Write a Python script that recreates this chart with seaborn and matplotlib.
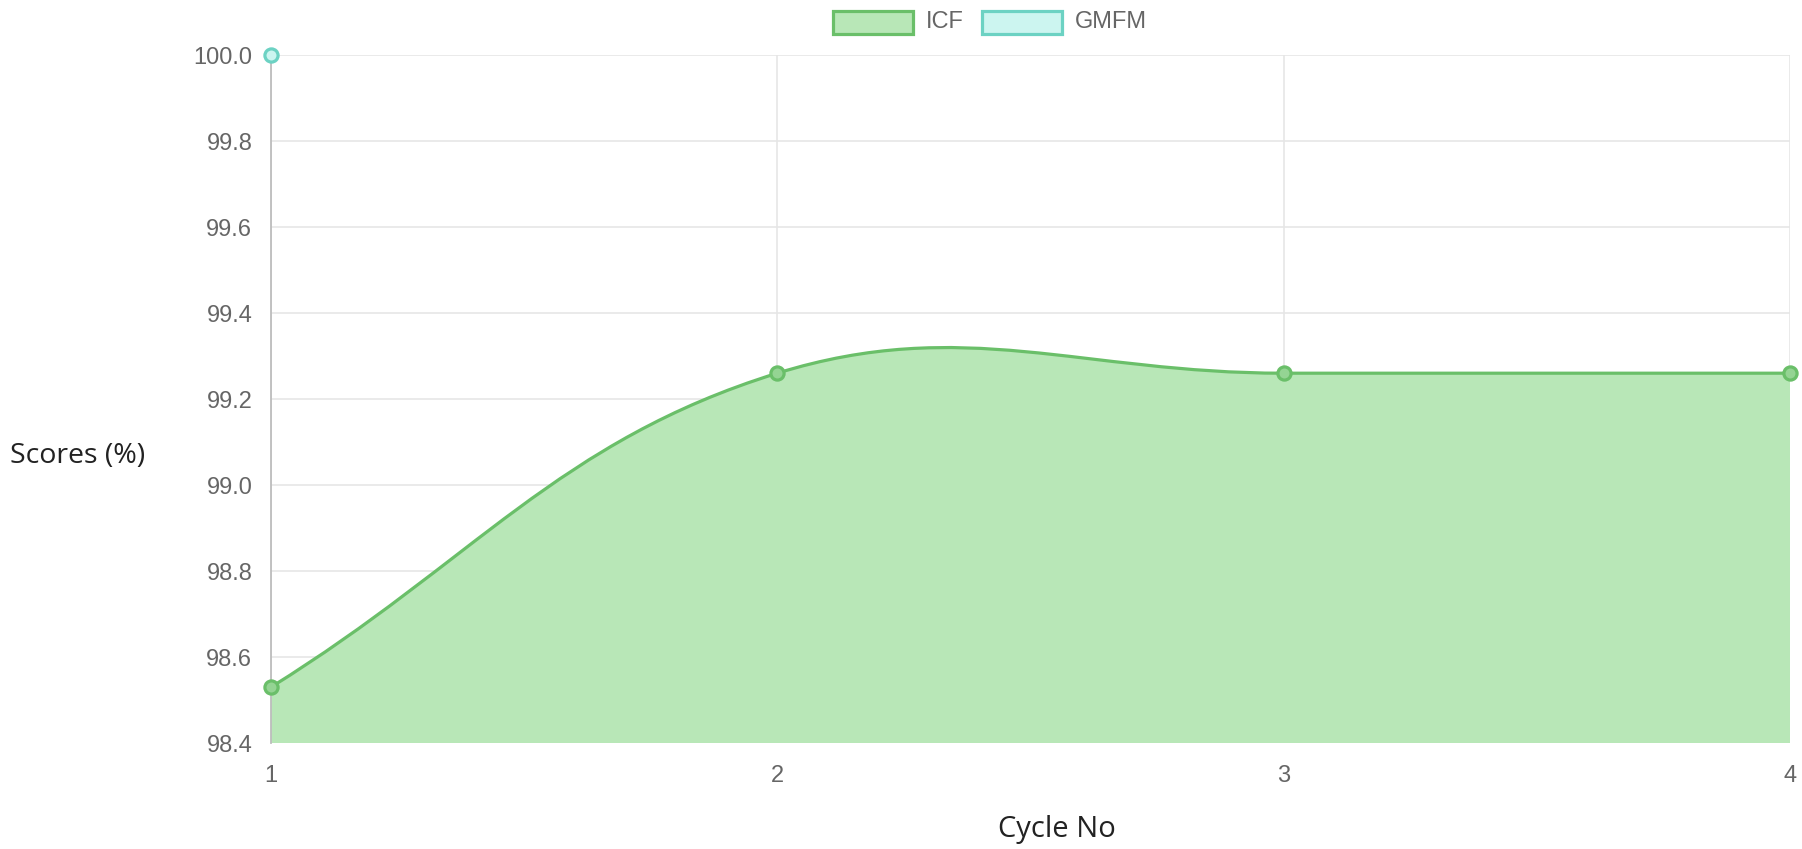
import numpy as np
import pandas as pd
import matplotlib
matplotlib.use("Agg")
import matplotlib.pyplot as plt
import seaborn as sns
from matplotlib.path import Path
from matplotlib.patches import PathPatch, Rectangle

cycles = [1, 2, 3, 4]
icf_scores = [98.53, 99.26, 99.26, 99.26]
gmfm_cycles = [1]
gmfm_scores = [100.0]
y_ticks = [98.4, 98.6, 98.8, 99.0, 99.2, 99.4, 99.6, 99.8, 100.0]

LINE_GREEN = "#6abf69"
FILL_GREEN = "#b8e7b7"
POINT_GREEN = "#94d493"
LINE_CYAN = "#6cd2c3"
FILL_CYAN = "#ccf5f0"
TICK_GREY = "#666666"
GRID_GREY = "#e6e6e6"

sns.set_theme(style="whitegrid")
plt.rcParams["font.family"] = ["Liberation Sans", "DejaVu Sans"]

W, H = 1802, 849
fig = plt.figure(figsize=(W / 100, H / 100), dpi=100)
ax = fig.add_axes([271 / W, 1 - 743 / H, (1790 - 271) / W, (743 - 55) / H])
ax.set_xlim(1, 4)
ax.set_ylim(98.4, 100.0)


def spline_path(xs, ys, tension=0.4):
    # chart.js style bezier, computed in pixel space
    pts = ax.transData.transform(np.column_stack([xs, ys]))
    n = len(pts)
    ctrl_prev, ctrl_next = [], []
    for i in range(n):
        cur = pts[i]
        prev = pts[i - 1] if i > 0 else cur
        nxt = pts[i + 1] if i < n - 1 else cur
        d01 = np.hypot(*(cur - prev))
        d12 = np.hypot(*(nxt - cur))
        tot = d01 + d12
        s01 = d01 / tot if tot else 0
        s12 = d12 / tot if tot else 0
        ctrl_prev.append(cur - tension * s01 * (nxt - prev))
        ctrl_next.append(cur + tension * s12 * (nxt - prev))
    verts = [pts[0]]
    codes = [Path.MOVETO]
    for i in range(1, n):
        verts += [ctrl_next[i - 1], ctrl_prev[i], pts[i]]
        codes += [Path.CURVE4] * 3
    inv = ax.transData.inverted()
    return inv.transform(np.array(verts)), codes


verts, codes = spline_path(cycles, icf_scores)

# fill under the curve down to the axis bottom
fill_verts = np.vstack([verts, [[cycles[-1], 98.4], [cycles[0], 98.4], verts[0]]])
fill_codes = codes + [Path.LINETO, Path.LINETO, Path.CLOSEPOLY]
ax.add_patch(PathPatch(Path(fill_verts, fill_codes), facecolor=FILL_GREEN,
                       edgecolor="none", zorder=2))
ax.add_patch(PathPatch(Path(verts, codes), facecolor="none", edgecolor=LINE_GREEN,
                       lw=2.3, zorder=3, capstyle="round", joinstyle="round"))

icf_df = pd.DataFrame({"cycle": cycles, "score": icf_scores})
gmfm_df = pd.DataFrame({"cycle": gmfm_cycles, "score": gmfm_scores})
sns.scatterplot(data=icf_df, x="cycle", y="score", ax=ax, s=90, color=POINT_GREEN,
                edgecolor=LINE_GREEN, linewidth=2.3, zorder=5, clip_on=False)
sns.scatterplot(data=gmfm_df, x="cycle", y="score", ax=ax, s=90, color=FILL_CYAN,
                edgecolor=LINE_CYAN, linewidth=2.3, zorder=5, clip_on=False)

ax.set_xticks(cycles)
ax.set_xticklabels([str(c) for c in cycles])
ax.set_yticks(y_ticks)
ax.set_yticklabels([f"{v:.1f}" for v in y_ticks])
ax.grid(True, color=GRID_GREY, lw=1.2, zorder=0)
ax.set_axisbelow(True)
ax.tick_params(axis="both", colors=GRID_GREY, length=12, width=1.2,
               labelcolor=TICK_GREY, labelsize=17)
ax.tick_params(axis="x", pad=4)
ax.tick_params(axis="y", pad=1.5)
ax.set_facecolor("white")
for side in ["top", "right", "bottom"]:
    ax.spines[side].set_visible(False)
ax.spines["left"].set_color("#bdbdbd")
ax.spines["left"].set_linewidth(1.3)

ax.set_xlabel("Cycle No", fontsize=21, color="#222222", family=["Open Sans", "DejaVu Sans"])
ax.xaxis.set_label_coords((1057 - 271) / (1790 - 271), -(829 - 743) / (743 - 55))
ax.xaxis.label.set_va("center")
ax.set_ylabel("Scores (%)", fontsize=20.5, color="#222222", family=["Open Sans", "DejaVu Sans"],
              rotation=0, ha="left", va="center")
ax.yaxis.set_label_coords(-261 / (1790 - 271), (743 - 456) / (743 - 55))

# legend drawn in figure pixels, chart.js style
legend_items = [("ICF", FILL_GREEN, LINE_GREEN, 833), ("GMFM", FILL_CYAN, LINE_CYAN, 982)]
for label, face, edge, x0 in legend_items:
    fig.patches.append(Rectangle((x0 / W, 1 - 34 / H), 80 / W, 23 / H, transform=fig.transFigure,
                                 facecolor=face, edgecolor=edge, lw=2.3))
    fig.text((x0 + 93) / W, 1 - 22.5 / H, label, fontsize=17, color=TICK_GREY,
             va="center", ha="left")

fig.savefig("out.png", dpi=100, facecolor="white")
